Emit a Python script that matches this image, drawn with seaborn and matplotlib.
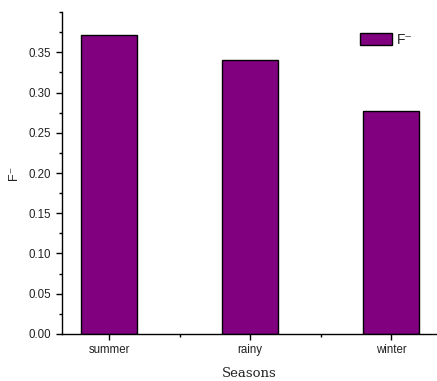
import matplotlib
matplotlib.use("Agg")
import matplotlib.pyplot as plt
import seaborn as sns
import pandas as pd
from matplotlib.ticker import MultipleLocator, FixedLocator

seasons = ["summer", "rainy", "winter"]
values = [0.371, 0.341, 0.277]
series_label = "F\u207b"
yticks = [0.00, 0.05, 0.10, 0.15, 0.20, 0.25, 0.30, 0.35]

sns.set_theme(style="ticks")
plt.rcParams['font.family'] = ['Liberation Sans', 'DejaVu Sans']

df = pd.DataFrame({"Seasons": seasons, "F": values})

fig = plt.figure(figsize=(4.37, 3.81), dpi=100)
ax = fig.add_axes([0.142, 0.1234, 0.856, 0.845])

sns.barplot(data=df, x="Seasons", y="F", color="#800080", edgecolor="black",
            linewidth=1.0, width=0.4, saturation=1, ax=ax, label=series_label)

ax.set_xlim(-0.333, 2.32)
ax.set_ylim(0, 0.40)
ax.set_yticks(yticks)
ax.set_yticklabels([f"{v:.2f}" for v in yticks])
ax.yaxis.set_minor_locator(MultipleLocator(0.025))
ax.xaxis.set_minor_locator(FixedLocator([0.5, 1.5]))

for s in ["top", "right"]:
    ax.spines[s].set_visible(False)
for s in ["left", "bottom"]:
    ax.spines[s].set_linewidth(1.0)
    ax.spines[s].set_color("black")

ax.tick_params(axis="both", which="major", length=4, width=1, labelsize=8.3, color="black", labelcolor="#222222", pad=3)
ax.tick_params(axis="y", which="major", pad=4)
ax.tick_params(axis="both", which="minor", length=2.5, width=1, color="black")

ax.set_xlabel("Seasons", fontsize=9.5, family=["DejaVu Serif"], color="#222222", labelpad=8)
ax.set_ylabel(series_label, fontsize=9, color="#222222", labelpad=6)

leg = ax.legend(loc="upper right", bbox_to_anchor=(0.97, 0.975), frameon=False,
                fontsize=10, handlelength=2.3, handleheight=1.0, handletextpad=0.3)

fig.savefig("out.png", dpi=100)
